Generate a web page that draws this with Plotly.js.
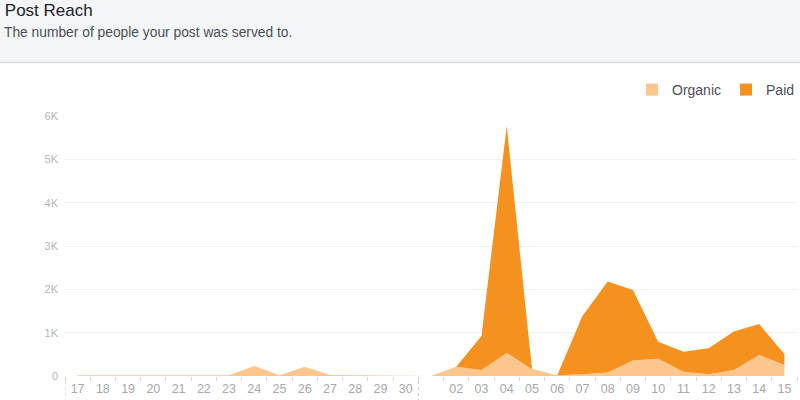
<!DOCTYPE html>
<html>
<head>
<meta charset="utf-8">
<script src="https://cdn.plot.ly/plotly-3.0.1.min.js"></script>
<style>
  html, body { margin: 0; padding: 0; background: #ffffff; }
  #chart { width: 800px; height: 400px; }
</style>
</head>
<body>
<div id="chart"></div>
<script>
// ---- Data ----
var dates = ['06-17','06-18','06-19','06-20','06-21','06-22','06-23','06-24','06-25','06-26','06-27','06-28','06-29','06-30',
             '07-01','07-02','07-03','07-04','07-05','07-06','07-07','07-08','07-09','07-10','07-11','07-12','07-13','07-14','07-15'];
var tickLabels = ['17','18','19','20','21','22','23','24','25','26','27','28','29','30',
                  '','02','03','04','05','06','07','08','09','10','11','12','13','14','15'];
var organic = [20,20,20,20,20,20,20,230,15,215,25,15,15,15,
               0,215,140,530,155,20,40,80,355,400,100,40,140,485,255];
var paid    = [0,0,0,0,0,0,0,0,0,0,0,0,0,0,
               0,0,785,5240,5,0,1345,2100,1630,390,460,600,885,715,250];
var yTickVals = [0,1000,2000,3000,4000,5000,6000];
var yTickText = ['0','1K','2K','3K','4K','5K','6K'];

var organicColor = '#fdc68c';
var paidColor = '#f5921f';

// month separators at start of each month
var seps = [];
for (var i = 0; i < dates.length; i++) {
  if (i === 0 || dates[i].slice(0,2) !== dates[i-1].slice(0,2)) seps.push(i - 0.5);
}

var traces = [
  {x: dates, y: organic, type: 'scatter', mode: 'lines', stackgroup: 'one',
   line: {width: 0, color: organicColor}, fillcolor: organicColor, showlegend: false, name: 'Organic'},
  {x: dates, y: paid, type: 'scatter', mode: 'lines', stackgroup: 'one',
   line: {width: 0, color: paidColor}, fillcolor: paidColor, showlegend: false, name: 'Paid'},
  // legend-only entries (zero-height bars draw nothing)
  {x: [dates[0]], y: [0], type: 'bar', name: 'Organic', marker: {color: organicColor, line: {width: 0}}},
  {x: [dates[0]], y: [0], type: 'bar', name: 'Paid', marker: {color: paidColor, line: {width: 0}}}
];

var shapes = [
  {type: 'rect', xref: 'paper', yref: 'paper', x0: -0.2, x1: 1.1, y0: (376-62)/260, y1: 1.6,
   fillcolor: '#f5f6f7', line: {width: 0}, layer: 'below'},
  {type: 'line', xref: 'paper', yref: 'paper', x0: -0.2, x1: 1.1, y0: (376-62.5)/260, y1: (376-62.5)/260,
   line: {color: '#dfe0e3', width: 1.5}, layer: 'below'}
];
seps.forEach(function (s) {
  shapes.push({type: 'line', xref: 'x', yref: 'paper', x0: s, x1: s, y0: -0.1, y1: -0.005,
               line: {color: '#c8c8c8', width: 1, dash: 'dot'}});
});

var layout = {
  width: 800, height: 400,
  margin: {l: 65, r: 3, t: 116, b: 24, autoexpand: false},
  paper_bgcolor: '#ffffff', plot_bgcolor: '#ffffff',
  font: {family: 'Liberation Sans, Arial, sans-serif', color: '#4b4f56'},
  title: {text: 'Post Reach', xref: 'container', yref: 'container', x: 0.006, xanchor: 'left',
          y: 0.975, yanchor: 'middle', font: {size: 17, color: '#1d2129'}},
  annotations: [
    {text: 'The number of people your post was served to.', xref: 'paper', yref: 'paper',
     x: -63/732, xanchor: 'left', y: (376-32)/260, yanchor: 'middle', showarrow: false,
     font: {size: 13.8, color: '#4b4f56'}}
  ],
  showlegend: true,
  legend: {orientation: 'h', xref: 'container', x: 1.0, xanchor: 'right',
           yref: 'container', y: (400-90)/400, yanchor: 'middle',
           font: {size: 14, color: '#4b4f56'}, bgcolor: 'rgba(0,0,0,0)', itemwidth: 30,
           traceorder: 'normal'},
  xaxis: {type: 'category', categoryorder: 'array', categoryarray: dates,
          tickvals: dates, ticktext: tickLabels, range: [-0.5, dates.length - 0.5],
          ticks: 'outside', ticklen: 4, tickcolor: '#d8d8d8', tickson: 'boundaries',
          ticklabelstandoff: 3,
          showgrid: false, showline: false, zeroline: false,
          tickfont: {size: 12.5, color: '#a8a8a8'}, fixedrange: true},
  yaxis: {range: [0, 6000], tickvals: yTickVals, ticktext: yTickText,
          showgrid: true, gridcolor: '#f1f1f1', gridwidth: 1, zeroline: false, showline: false,
          ticklabelstandoff: 6,
          tickfont: {size: 11, color: '#b5b5b5'}, ticks: '', fixedrange: true},
  shapes: shapes
};

Plotly.newPlot('chart', traces, layout, {displayModeBar: false, staticPlot: true});
</script>
</body>
</html>
